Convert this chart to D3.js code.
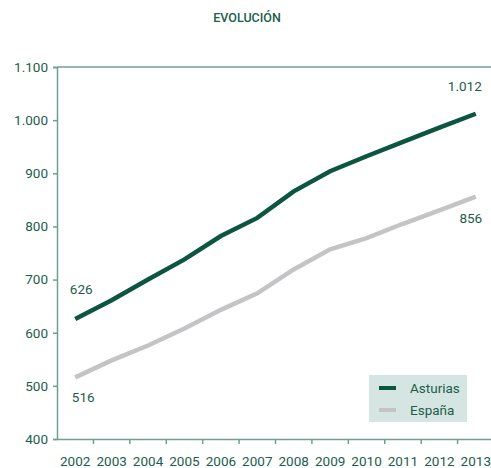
<!DOCTYPE html>
<html>
<head>
<meta charset="utf-8">
<script src="https://cdn.jsdelivr.net/npm/d3@7"></script>
<style>
  body { margin: 0; background: #fff; }
  text { font-family: Roboto, sans-serif; fill: #1b5e4c; }
</style>
</head>
<body>
<div id="chart"></div>
<script>
// data
var years = ["2002", "2003", "2004", "2005", "2006", "2007", "2008", "2009", "2010", "2011", "2012", "2013"];
var asturias = [626, 661, 700, 738, 782, 816, 866, 904, 932, 959, 986, 1012];
var espana = [516, 548, 576, 608, 643, 674, 719, 757, 778, 805, 830, 856];
var yTicks = [400, 500, 600, 700, 800, 900, 1000, 1100];
var seriesNames = ["Asturias", "España"];

var svgWidth = 491;
var svgHeight = 468;

var margin = { top: 67, right: -3, bottom: 29, left: 57 };
var chartWidth = svgWidth - margin.left - margin.right;
var chartHeight = svgHeight - margin.top - margin.bottom;

var svg = d3.select("#chart")
  .append("svg")
  .attr("width", svgWidth)
  .attr("height", svgHeight);

var chartGroup = svg.append("g")
  .attr("transform", `translate(${margin.left}, ${margin.top})`);

var xScale = d3.scaleBand()
  .domain(years)
  .range([0, chartWidth]);

var yScale = d3.scaleLinear()
  .domain([400, 1100])
  .range([chartHeight, 0]);

var axisColor = "#6f9f92";
var textColor = "#1b5e4c";
var fs = 13.5;

// title
svg.append("text")
  .attr("x", 247)
  .attr("y", 22)
  .attr("text-anchor", "middle")
  .attr("font-size", 12.5)
  .attr("font-weight", 500)
  .text("EVOLUCIÓN");

// top border
chartGroup.append("line")
  .attr("x1", 0).attr("x2", chartWidth)
  .attr("y1", 0).attr("y2", 0)
  .attr("stroke", axisColor).attr("stroke-width", 1.5);

// y axis
var fmt = d => d3.format(",")(d).replace(",", ".");

var leftAxis = d3.axisLeft(yScale)
  .tickValues(yTicks)
  .tickSize(4)
  .tickPadding(5)
  .tickFormat(fmt);

var yAxis = chartGroup.append("g").call(leftAxis);
yAxis.select(".domain").attr("stroke", axisColor).attr("stroke-width", 1.5);
yAxis.selectAll(".tick line").attr("stroke", axisColor).attr("stroke-width", 1.5);
yAxis.selectAll(".tick text")
  .attr("font-size", fs).attr("font-family", "Roboto").attr("fill", textColor);

// x axis, ticks between bands
var bottomAxis = d3.axisBottom(xScale).tickSize(0).tickPadding(17);
var xAxis = chartGroup.append("g")
  .attr("transform", `translate(0, ${chartHeight})`)
  .call(bottomAxis);
xAxis.select(".domain").attr("stroke", axisColor).attr("stroke-width", 1.5);
xAxis.selectAll(".tick text")
  .attr("font-size", fs).attr("font-family", "Roboto").attr("fill", textColor);

xAxis.selectAll(".sep")
  .data(years.slice(1))
  .enter()
  .append("line")
  .attr("x1", d => xScale(d)).attr("x2", d => xScale(d))
  .attr("y1", 0).attr("y2", 5)
  .attr("stroke", axisColor).attr("stroke-width", 1.5);

// lines
var cx = i => xScale(years[i]) + xScale.bandwidth() / 2;
var line = d3.line()
  .x((d, i) => cx(i))
  .y(d => yScale(d));

chartGroup.append("path")
  .datum(espana)
  .attr("d", line)
  .attr("fill", "none")
  .attr("stroke", "#c4c4c6")
  .attr("stroke-width", 4.5);

chartGroup.append("path")
  .datum(asturias)
  .attr("d", line)
  .attr("fill", "none")
  .attr("stroke", "#0b5541")
  .attr("stroke-width", 4.5);

// value labels at the ends
chartGroup.append("text")
  .attr("x", cx(0) + 6).attr("y", yScale(asturias[0]) - 25)
  .attr("text-anchor", "middle").attr("font-size", fs)
  .text(fmt(asturias[0]));

chartGroup.append("text")
  .attr("x", cx(0) + 8).attr("y", yScale(espana[0]) + 25)
  .attr("text-anchor", "middle").attr("font-size", fs)
  .text(fmt(espana[0]));

chartGroup.append("text")
  .attr("x", cx(11) - 11).attr("y", yScale(asturias[11]) - 23)
  .attr("text-anchor", "middle").attr("font-size", fs)
  .text(fmt(asturias[11]));

chartGroup.append("text")
  .attr("x", cx(11) - 5).attr("y", yScale(espana[11]) + 26)
  .attr("text-anchor", "middle").attr("font-size", fs)
  .text(fmt(espana[11]));

// legend
var legend = svg.append("g").attr("transform", "translate(369, 375)");
legend.append("rect")
  .attr("width", 98).attr("height", 47)
  .attr("fill", "#d5e5e1");

var legendColors = ["#0b5541", "#c4c4c6"];
seriesNames.forEach(function(name, i) {
  legend.append("line")
    .attr("x1", 10).attr("x2", 27)
    .attr("y1", 13 + i * 22).attr("y2", 13 + i * 22)
    .attr("stroke", legendColors[i]).attr("stroke-width", 4);
  legend.append("text")
    .attr("x", 41).attr("y", 18 + i * 22)
    .attr("font-size", fs)
    .text(name);
});
</script>
</body>
</html>
